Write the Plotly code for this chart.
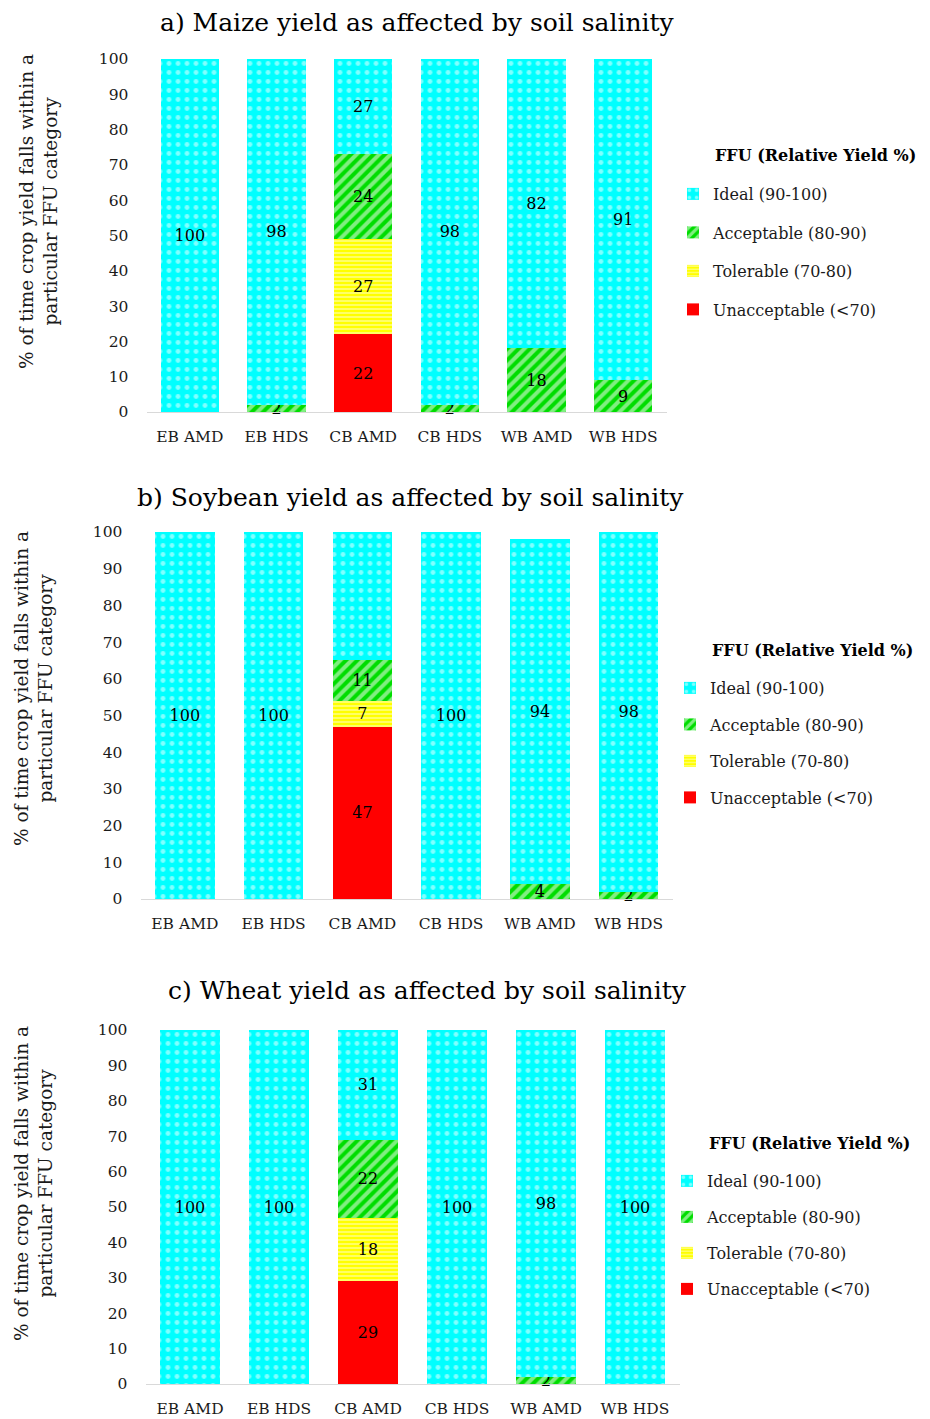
import plotly.graph_objects as go

W, H = 930, 1419
FONT = "DejaVu Serif"

categories = ["EB AMD", "EB HDS", "CB AMD", "CB HDS", "WB AMD", "WB HDS"]
series_names = ["Unacceptable (<70)", "Tolerable (70-80)", "Acceptable (80-90)", "Ideal (90-100)"]
legend_ranks = [4, 3, 2, 1]

maize_unacceptable = [0, 0, 22, 0, 0, 0]
maize_tolerable = [0, 0, 27, 0, 0, 0]
maize_acceptable = [0, 2, 24, 2, 18, 9]
maize_ideal = [100, 98, 27, 98, 82, 91]

soy_unacceptable = [0, 0, 47, 0, 0, 0]
soy_tolerable = [0, 0, 7, 0, 0, 0]
soy_acceptable = [0, 0, 11, 0, 4, 2]
soy_ideal = [100, 100, 36, 100, 94, 98]

wheat_unacceptable = [0, 0, 29, 0, 0, 0]
wheat_tolerable = [0, 0, 18, 0, 0, 0]
wheat_acceptable = [0, 0, 22, 0, 2, 0]
wheat_ideal = [100, 100, 31, 100, 98, 100]

titles = ["a) Maize yield as affected by soil salinity",
          "b) Soybean yield as affected by soil salinity",
          "c) Wheat yield as affected by soil salinity"]
ytitle = "% of time crop yield falls within a<br>particular FFU category"
legend_title = "<b>FFU (Relative Yield %)</b>"

panels = [
    [maize_unacceptable, maize_tolerable, maize_acceptable, maize_ideal],
    [soy_unacceptable, soy_tolerable, soy_acceptable, soy_ideal],
    [wheat_unacceptable, wheat_tolerable, wheat_acceptable, wheat_ideal],
]

styles = [
    dict(color="#FF0000"),
    dict(color="#FFFF00", pattern=dict(shape="-", fgcolor="white", bgcolor="#FFFF00", size=4, solidity=0.4, fillmode="overlay")),
    dict(color="#00DD00", pattern=dict(shape="/", fgcolor="white", bgcolor="#00DD00", size=8, solidity=0.5, fillmode="overlay")),
    dict(color="#00FFFF", pattern=dict(shape=".", fgcolor="white", bgcolor="#00FFFF", size=9, solidity=0.22, fillmode="overlay")),
]

# layout geometry (pixels)
geo = [
    dict(x0=146.5, x1=666.5, y0=412, y1=59, tx=417, ty=22, yt_x=38, yt_y=212, lx=713, lty=155, ly0=193, gap=14.7),
    dict(x0=140.5, x1=673, y0=899, y1=532, tx=410, ty=498, yt_x=33, yt_y=689, lx=710, lty=650, ly0=687, gap=12.7),
    dict(x0=145.5, x1=679.5, y0=1384, y1=1030, tx=427, ty=990, yt_x=33, yt_y=1184, lx=707, lty=1143, ly0=1180, gap=12.2),
]


def px(x):
    return x / W


def py(y):
    return 1 - y / H


fig = go.Figure()
legend_keys = ["legend", "legend2", "legend3"]
annotations = []
layout = {}

for p, (vals, g) in enumerate(zip(panels, geo)):
    xa = "x" if p == 0 else f"x{p+1}"
    ya = "y" if p == 0 else f"y{p+1}"
    for s, (name, v, st) in enumerate(zip(series_names, vals, styles)):
        fig.add_trace(go.Bar(
            x=categories, y=v, name=name,
            xaxis=xa, yaxis=ya,
            marker=dict(line=dict(width=0), **st),
            text=[str(t) if t else "" for t in v],
            textposition="inside", insidetextanchor="middle", textangle=0,
            textfont=dict(family=FONT, size=16, color="black"),
            cliponaxis=False,
            legend=legend_keys[p], legendgroup=f"p{p}s{s}", legendrank=legend_ranks[s],
            hoverinfo="skip",
        ))
    xkey = "xaxis" if p == 0 else f"xaxis{p+1}"
    ykey = "yaxis" if p == 0 else f"yaxis{p+1}"
    layout[xkey] = dict(domain=[px(g["x0"]), px(g["x1"])], anchor=ya, automargin=False,
                        showline=True, linecolor="#D9D9D9", linewidth=1,
                        ticks="outside", ticklen=10, tickcolor="rgba(0,0,0,0)",
                        tickfont=dict(family=FONT, size=15.5, color="#1a1a1a"),
                        showgrid=False, zeroline=False)
    layout[ykey] = dict(domain=[py(g["y0"]), py(g["y1"])], anchor=xa, automargin=False,
                        range=[0, 100], dtick=10, showgrid=False, zeroline=False,
                        showline=False,
                        ticks="outside", ticklen=14, tickcolor="rgba(0,0,0,0)",
                        tickfont=dict(family=FONT, size=15.5, color="#1a1a1a"))
    layout[legend_keys[p]] = dict(x=px(g["lx"] - 40), xanchor="left",
                                  y=py(g["ly0"] - 16), yanchor="top",
                                  traceorder="grouped", tracegroupgap=g["gap"],
                                  font=dict(family=FONT, size=16, color="#1a1a1a"),
                                  bgcolor="rgba(0,0,0,0)")
    annotations.append(dict(text=titles[p], x=px(g["tx"]), y=py(g["ty"]),
                            xref="paper", yref="paper", showarrow=False,
                            xanchor="center", yanchor="middle",
                            font=dict(family=FONT, size=25, color="black")))
    annotations.append(dict(text=ytitle, x=px(g["yt_x"]), y=py(g["yt_y"]),
                            xref="paper", yref="paper", showarrow=False, textangle=-90,
                            xanchor="center", yanchor="middle",
                            font=dict(family=FONT, size=18.5, color="#1a1a1a")))
    annotations.append(dict(text=legend_title, x=px(g["lx"]), y=py(g["lty"]),
                            xref="paper", yref="paper", showarrow=False,
                            xanchor="left", yanchor="middle",
                            font=dict(family=FONT, size=16, color="black")))

fig.update_layout(
    width=W, height=H, barmode="stack", bargap=0.33,
    margin=dict(l=0, r=0, t=0, b=0, autoexpand=False),
    paper_bgcolor="white", plot_bgcolor="white",
    uniformtext=dict(minsize=16, mode="show"),
    hovermode=False,
    annotations=annotations,
    **layout,
)

fig.write_html("out.html", config={"displayModeBar": False},
               post_script="document.body.style.margin='0px';")
